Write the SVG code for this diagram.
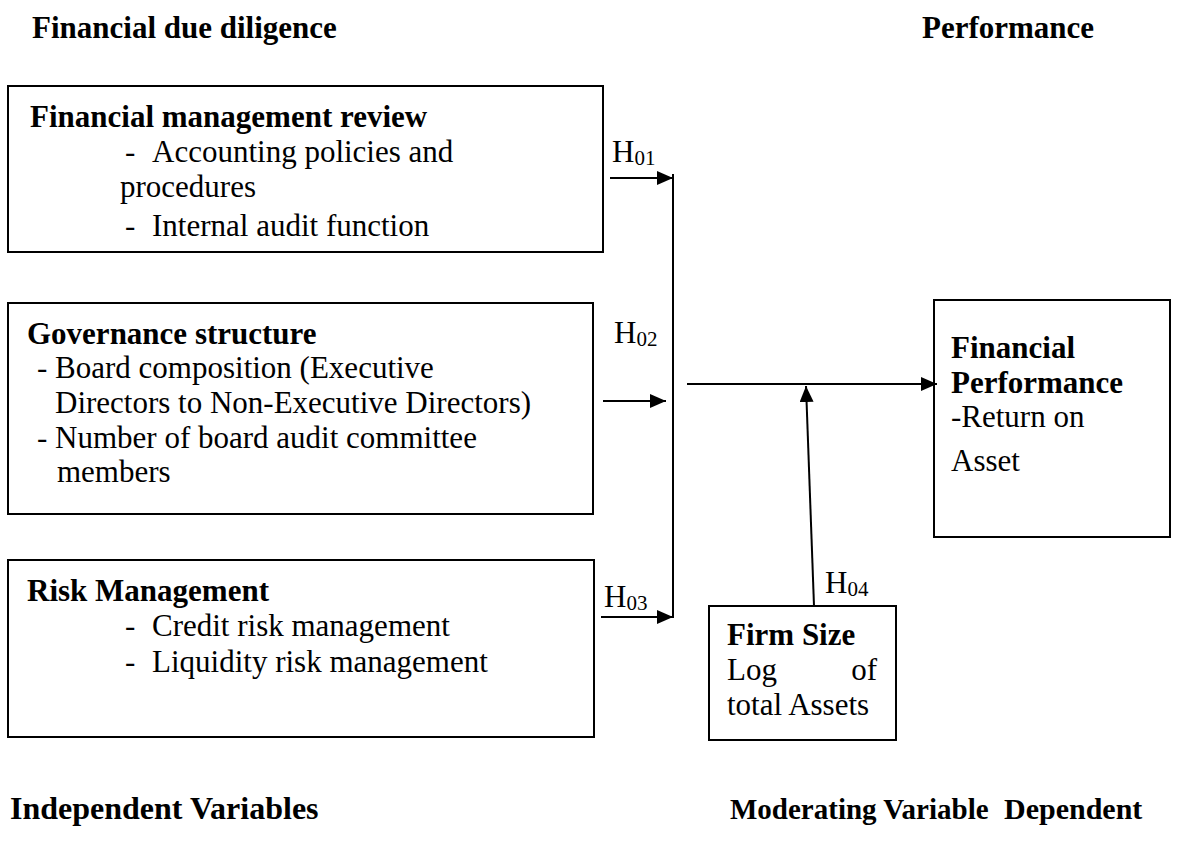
<svg xmlns="http://www.w3.org/2000/svg" width="1178" height="850" viewBox="0 0 1178 850">
<style>
text{font-family:"Liberation Serif","Times New Roman",serif;font-size:31px;fill:#000}
.b{font-weight:bold}
.sub{font-size:21px}
.box{fill:#fff;stroke:#000;stroke-width:2}
.ln{stroke:#000;stroke-width:2;fill:none}
</style>
<defs>
<marker id="ah" markerUnits="userSpaceOnUse" markerWidth="18" markerHeight="16" refX="16" refY="7" orient="auto">
<path d="M0,0 L16,7 L0,14 z" fill="#000"/>
</marker>
</defs>
<g id="titles">
<text class="b" x="32" y="38">Financial due diligence</text>
<text class="b" x="922" y="38">Performance</text>
<text class="b" x="10" y="819" style="font-size:32px">Independent Variables</text>
<text class="b" x="730" y="819" style="font-size:29px">Moderating Variable</text>
<text class="b" x="1004" y="819" style="font-size:30px">Dependent</text>
</g>
<g id="financial-management">
<rect class="box" x="8" y="86" width="595" height="166"/>
<text class="b" x="30" y="127">Financial management review</text>
<text x="125" y="162">-</text><text x="152" y="162">Accounting policies and</text>
<text x="120" y="197">procedures</text>
<text x="125" y="236">-</text><text x="152" y="236">Internal audit function</text>
</g>
<g id="governance">
<rect class="box" x="8" y="303" width="585" height="211"/>
<text class="b" x="27" y="344">Governance structure</text>
<text x="37" y="378">- Board composition (Executive</text>
<text x="55" y="413">Directors to Non-Executive Directors)</text>
<text x="37" y="448">- Number of board audit committee</text>
<text x="57" y="482">members</text>
</g>
<g id="risk">
<rect class="box" x="8" y="560" width="586" height="177"/>
<text class="b" x="27" y="601">Risk Management</text>
<text x="125" y="636">-</text><text x="152" y="636">Credit risk management</text>
<text x="125" y="672">-</text><text x="152" y="672">Liquidity risk management</text>
</g>
<g id="firm-size">
<rect class="box" x="709" y="606" width="187" height="134"/>
<text class="b" x="727" y="645">Firm Size</text>
<text x="727" y="680">Log</text><text x="877" y="680" text-anchor="end">of</text>
<text x="727" y="715">total Assets</text>
</g>
<g id="financial-performance">
<rect class="box" x="934" y="300" width="236" height="237"/>
<text class="b" x="951" y="358">Financial</text>
<text class="b" x="951" y="393">Performance</text>
<text x="951" y="427">-Return on</text>
<text x="951" y="471">Asset</text>
</g>
<g id="connectors">
<line class="ln" x1="673" y1="174" x2="673" y2="618"/>
<line class="ln" x1="610" y1="178" x2="673" y2="178" marker-end="url(#ah)"/>
<line class="ln" x1="603" y1="401" x2="666" y2="401" marker-end="url(#ah)"/>
<line class="ln" x1="601" y1="617" x2="673" y2="617" marker-end="url(#ah)"/>
<line class="ln" x1="687" y1="384" x2="937" y2="384" marker-end="url(#ah)"/>
<line class="ln" x1="814" y1="606" x2="806" y2="386" marker-end="url(#ah)"/>
</g>
<g id="labels">
<text x="612" y="162">H<tspan class="sub" dy="3">01</tspan></text>
<text x="614" y="343">H<tspan class="sub" dy="3">02</tspan></text>
<text x="604" y="607">H<tspan class="sub" dy="3">03</tspan></text>
<text x="825" y="593">H<tspan class="sub" dy="3">04</tspan></text>
</g>
</svg>
